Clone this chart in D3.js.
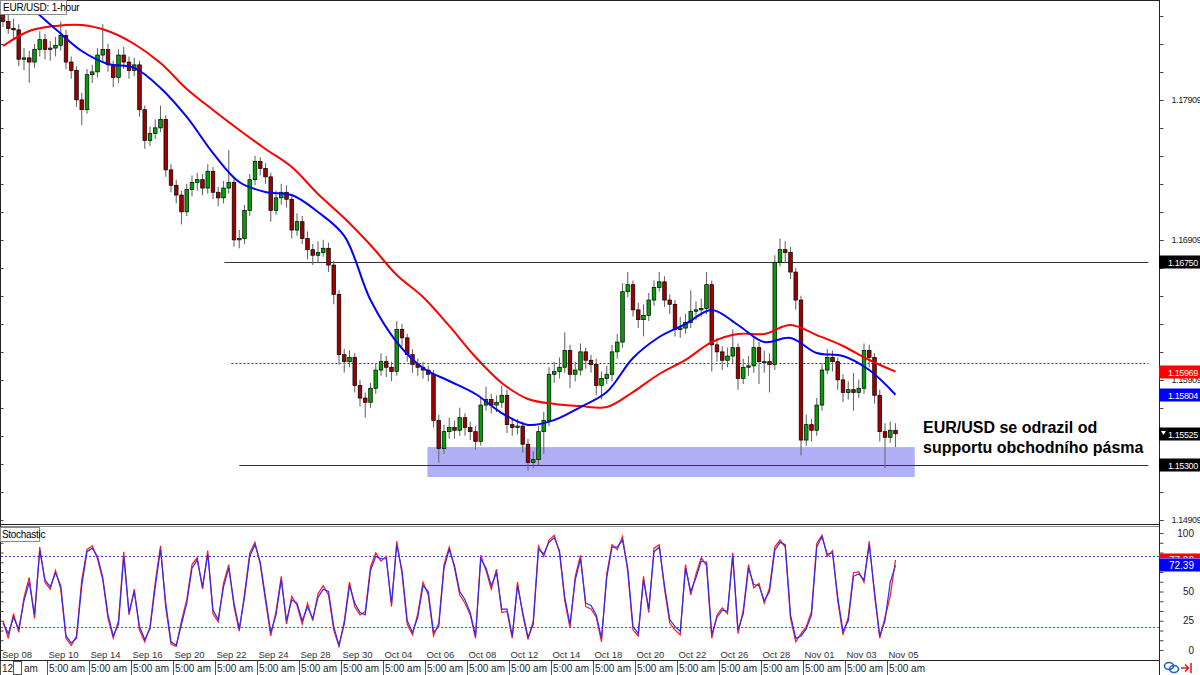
<!DOCTYPE html>
<html><head><meta charset="utf-8">
<script src="https://cdn.jsdelivr.net/npm/d3@7"></script>
<style>
html,body{margin:0;padding:0;background:#fff;}
svg{display:block;font-family:"Liberation Sans",Arial,sans-serif;}
</style></head>
<body>
<svg id="c" width="1200" height="675"></svg>
<script>
// ---------- DATA ----------
const title = "EUR/USD: 1-hour";
const barStepHours = 6;            // one candle per 6 hourly bars
const firstOpen = 1.1852;
const closes = [
1.1847,1.1842,1.1841,1.1820,1.1821,1.1818,1.1827,1.1834,1.1827,1.1828,
1.1830,1.1837,1.1818,1.1812,1.1791,1.1784,1.1809,1.1811,1.1823,1.1827,
1.1816,1.1807,1.1823,1.1818,1.1812,1.1816,1.1784,1.1762,1.1767,1.1771,
1.1777,1.1741,1.1730,1.1723,1.1711,1.1727,1.1732,1.1734,1.1728,1.1740,
1.1725,1.1721,1.1728,1.1732,1.1691,1.1692,1.1712,1.1734,1.1747,1.1742,
1.1736,1.1712,1.1721,1.1725,1.1720,1.1698,1.1704,1.1692,1.1684,1.1680,
1.1682,1.1685,1.1673,1.1652,1.1609,1.1604,1.1607,1.1587,1.1578,1.1575,
1.1585,1.1598,1.1604,1.1600,1.1597,1.1627,1.1621,1.1609,1.1602,1.1600,
1.1598,1.1595,1.1562,1.1542,1.1554,1.1557,1.1555,1.1564,1.1557,1.1554,
1.1547,1.1573,1.1577,1.1573,1.1575,1.1580,1.1559,1.1557,1.1558,1.1545,
1.1532,1.1534,1.1554,1.1562,1.1595,1.1597,1.1600,1.1612,1.1595,1.1598,
1.1611,1.1605,1.1602,1.1587,1.1592,1.1595,1.1611,1.1618,1.1654,1.1659,
1.1641,1.1634,1.1637,1.1648,1.1657,1.1661,1.1648,1.1645,1.1627,1.1628,
1.1632,1.1640,1.1641,1.1642,1.1659,1.1616,1.1611,1.1605,1.1608,1.1614,
1.1592,1.1600,1.1601,1.1614,1.1604,1.1604,1.1602,1.1675,1.1684,1.1682,
1.1668,1.1648,1.1548,1.1559,1.1555,1.1573,1.1598,1.1607,1.1604,1.1591,
1.1582,1.1584,1.1582,1.1585,1.1612,1.1607,1.1580,1.1554,1.1550,1.1555,
1.15525];
const highs = [
1.1856,1.1852,1.1849,1.1845,1.1828,1.1826,1.1831,1.1840,1.1838,1.1833,
1.1836,1.1847,1.1841,1.1822,1.1815,1.1796,1.1813,1.1816,1.1828,1.1845,
1.1831,1.1819,1.1827,1.1829,1.1822,1.1821,1.1819,1.1787,1.1772,1.1777,
1.1787,1.1780,1.1745,1.1734,1.1726,1.1731,1.1737,1.1739,1.1738,1.1745,
1.1743,1.1729,1.1733,1.1755,1.1735,1.1698,1.1716,1.1738,1.1751,1.1750,
1.1746,1.1739,1.1726,1.1731,1.1730,1.1723,1.1710,1.1708,1.1697,1.1688,
1.1690,1.1691,1.1689,1.1676,1.1655,1.1613,1.1612,1.1610,1.1591,1.1582,
1.1589,1.1603,1.1610,1.1608,1.1604,1.1633,1.1631,1.1624,1.1613,1.1606,
1.1604,1.1601,1.1598,1.1566,1.1559,1.1564,1.1562,1.1571,1.1567,1.1561,
1.1558,1.1578,1.1586,1.1581,1.1580,1.1587,1.1584,1.1564,1.1563,1.1561,
1.1549,1.1540,1.1558,1.1568,1.1600,1.1604,1.1607,1.1625,1.1616,1.1604,
1.1617,1.1614,1.1609,1.1606,1.1597,1.1601,1.1616,1.1624,1.1660,1.1668,
1.1662,1.1646,1.1645,1.1653,1.1662,1.1668,1.1665,1.1652,1.1648,1.1636,
1.1638,1.1655,1.1647,1.1649,1.1668,1.1662,1.1621,1.1615,1.1614,1.1627,
1.1617,1.1606,1.1608,1.1622,1.1618,1.1612,1.1610,1.1680,1.1692,1.1690,
1.1686,1.1671,1.1651,1.1566,1.1563,1.1578,1.1603,1.1613,1.1612,1.1607,
1.1595,1.1590,1.1596,1.1591,1.1617,1.1616,1.1610,1.1584,1.1560,1.1561,
1.1560];
const lows = [
1.1843,1.1838,1.1834,1.1815,1.1812,1.1803,1.1814,1.1822,1.1820,1.1819,
1.1822,1.1826,1.1813,1.1806,1.1786,1.1773,1.1781,1.1803,1.1807,1.1818,
1.1811,1.1800,1.1803,1.1813,1.1806,1.1808,1.1779,1.1756,1.1758,1.1763,
1.1768,1.1736,1.1725,1.1717,1.1702,1.1708,1.1722,1.1726,1.1723,1.1724,
1.1720,1.1715,1.1717,1.1724,1.1686,1.1685,1.1688,1.1708,1.1730,1.1737,
1.1731,1.1704,1.1709,1.1716,1.1714,1.1692,1.1694,1.1688,1.1677,1.1673,
1.1675,1.1679,1.1668,1.1645,1.1602,1.1596,1.1600,1.1582,1.1572,1.1564,
1.1571,1.1581,1.1594,1.1593,1.1590,1.1594,1.1615,1.1604,1.1596,1.1594,
1.1592,1.1590,1.1557,1.1532,1.1538,1.1549,1.1549,1.1551,1.1551,1.1548,
1.1541,1.1544,1.1569,1.1567,1.1568,1.1571,1.1553,1.1551,1.1552,1.1539,
1.1526,1.1528,1.1530,1.1538,1.1558,1.1589,1.1592,1.1596,1.1585,1.1590,
1.1594,1.1599,1.1596,1.1580,1.1577,1.1588,1.1590,1.1606,1.1614,1.1650,
1.1636,1.1628,1.1622,1.1633,1.1644,1.1654,1.1643,1.1638,1.1622,1.1621,
1.1624,1.1628,1.1634,1.1636,1.1638,1.1597,1.1604,1.1598,1.1600,1.1603,
1.1584,1.1588,1.1594,1.1596,1.1588,1.1596,1.1582,1.1598,1.1672,1.1675,
1.1663,1.1641,1.1537,1.1544,1.1547,1.1551,1.1569,1.1595,1.1597,1.1584,
1.1575,1.1577,1.1569,1.1578,1.1581,1.1600,1.1574,1.1547,1.1528,1.1546,
1.1543];

const maStepHours = 30;
const maBlue = [1.18680,1.18573,1.18416,1.18259,1.18166,1.18138,1.17995,1.17788,1.17530,1.17323,
1.17252,1.17230,1.17109,1.16938,1.16480,1.16180,1.15995,1.15902,1.15809,1.15673,
1.15588,1.15623,1.15716,1.15823,1.16066,1.16216,1.16309,1.16409,1.16302,1.16180,
1.16209,1.16102,1.16080,1.15980,1.15804];
const maRed = [1.18295,1.18402,1.18438,1.18445,1.18402,1.18309,1.18173,1.17988,1.17838,1.17695,
1.17559,1.17430,1.17238,1.17066,1.16873,1.16659,1.16502,1.16295,1.16073,1.15888,
1.15773,1.15738,1.15723,1.15716,1.15823,1.15952,1.16052,1.16180,1.16238,1.16238,
1.16302,1.16230,1.16152,1.16052,1.15969];

const stochD = [
23,14,28,18,42,58,30,85,60,54, 66,55,12,6,10,55,84,87,80,62,
30,12,22,80,32,50,20,9,18,54, 86,40,7,4,22,40,70,77,54,82,
34,26,54,70,40,18,45,80,90,75, 45,15,30,60,25,43,40,25,37,27,
45,52,50,20,4,22,55,40,32,30, 68,80,78,78,40,90,68,25,15,28,
55,50,15,20,70,86,72,50,43,32, 12,78,70,55,66,35,35,12,55,32,
11,22,86,82,92,96,85,45,22,60, 78,40,38,30,10,62,88,88,94,70,
20,14,60,35,84,88,55,26,20,16, 70,50,62,76,75,13,28,34,33,80,
17,31,70,56,55,42,50,85,92,90, 30,10,12,18,30,88,97,82,83,45,
16,25,63,65,60,90,50,12,25,58, 72.39];
const stochK = [
25,10,31,15,45,62,27,88,58,52, 68,52,10,4,12,60,86,89,78,60,
27,10,25,84,30,52,17,7,20,58, 89,36,5,3,25,43,73,79,52,85,
31,24,57,73,37,16,48,83,92,73, 42,12,33,63,22,46,38,22,40,25,
48,55,47,17,3,25,58,37,30,33, 71,83,76,80,37,93,65,22,13,31,
58,47,12,23,73,88,70,47,40,30, 10,81,68,52,69,32,33,10,58,30,
9,25,89,80,94,98,83,42,19,63, 81,37,35,28,7,65,90,86,97,67,
17,12,63,32,87,90,52,23,17,13, 73,47,65,79,72,10,30,36,31,83,
14,34,73,53,57,40,53,88,94,88, 27,7,14,20,33,91,98,80,85,42,
13,28,66,67,58,93,47,10,28,46, 77];

const priceAxisLabels = [1.14909, 1.15909, 1.16909, 1.17909];
const levelLines = [
  {price: 1.16750, startHour: 253, style: "solid"},
  {price: 1.16030, startHour: 261, style: "dotted"},
  {price: 1.15300, startHour: 270, style: "solid"}
];
const levelEndHour = 1309;
const zone = {top: 1.15430, bottom: 1.15216, startHour: 485, endHour: 1042};
const priceTags = [
  {price: 1.16750, fill: "#000", text: "1.16750"},
  {price: 1.15969, fill: "#ff0000", text: "1.15969"},
  {price: 1.15804, fill: "#0000ff", text: "1.15804"},
  {price: 1.15525, fill: "#000", text: "1.15525", marker: true},
  {price: 1.15300, fill: "#000", text: "1.15300"}
];
const stochLevels = [{v: 80, color: "#3a3aff"}, {v: 20, color: "#ff2020"}];
const stochAxisLabels = [100, 50, 25, 0];
const stochTags = [{v: 77.00, fill: "#ff0000", text: "77.00"}, {v: 72.39, fill: "#0000ff", text: "72.39"}];
const dateLabels = ["Sep 08","Sep 10","Sep 14","Sep 16","Sep 20","Sep 22","Sep 24","Sep 28","Sep 30","Oct 04","Oct 06",
  "Oct 08","Oct 12","Oct 14","Oct 18","Oct 20","Oct 22","Oct 26","Oct 28","Nov 01","Nov 03","Nov 05"];
const dateHours = [0,53,101,149,197,245,293,341,389,437,485,533,581,629,677,725,773,821,869,917,965,1013];
const timeLabels = ["12:","5:00 am","5:00 am","5:00 am","5:00 am","5:00 am","5:00 am","5:00 am","5:00 am","5:00 am","5:00 am",
  "5:00 am","5:00 am","5:00 am","5:00 am","5:00 am","5:00 am","5:00 am","5:00 am","5:00 am","5:00 am","5:00 am"];
const annotation = ["EUR/USD se odrazil od", "supportu obchodního pásma"];

// ---------- CHART ----------
const svg = d3.select("#c");
const W = 1200, AX = 1159;
const x = d3.scaleLinear().domain([0, 1320]).range([3, 1158]);
const y = d3.scaleLinear().domain([1.14909, 1.17909]).range([520, 100]);
const ys = d3.scaleLinear().domain([0, 100]).range([650, 533]);
const lblFont = {size: 9, spacing: -0.4};

const defs = svg.append("defs");
defs.append("clipPath").attr("id","mainClip").append("rect").attr("x",1).attr("y",1).attr("width",AX-1).attr("height",523);
defs.append("clipPath").attr("id","stClip").append("rect").attr("x",1).attr("y",527).attr("width",AX-1).attr("height",132);
defs.append("clipPath").attr("id","redTagClip").append("rect").attr("x",AX).attr("y",ys(77)-7).attr("width",W-AX).attr("height",ys(72.39)-ys(77));

const candles = closes.map((c,i)=>({hour:i*barStepHours, open: i===0?firstOpen:closes[i-1], close:c, high:highs[i], low:lows[i]}));

const main = svg.append("g").attr("clip-path","url(#mainClip)");

// support zone
main.append("rect")
  .attr("x", x(zone.startHour)).attr("width", x(zone.endHour)-x(zone.startHour))
  .attr("y", y(zone.top)).attr("height", y(zone.bottom)-y(zone.top))
  .attr("fill","#b0b0f6");

// level lines
main.selectAll("line.lvl").data(levelLines).join("line")
  .attr("x1", d=>x(d.startHour)).attr("x2", x(levelEndHour))
  .attr("y1", d=>Math.round(y(d.price))+0.5).attr("y2", d=>Math.round(y(d.price))+0.5)
  .attr("stroke","#333").attr("stroke-width",1.2)
  .attr("stroke-dasharray", d=>d.style==="dotted"?"2,2":null);

// candles
const cg = main.append("g");
cg.selectAll("line.wick").data(candles).join("line")
  .attr("x1", d=>x(d.hour)).attr("x2", d=>x(d.hour))
  .attr("y1", d=>y(d.high)).attr("y2", d=>y(d.low))
  .attr("stroke","#6a6a6a").attr("stroke-width",1.1);
cg.selectAll("rect.body").data(candles).join("rect")
  .attr("x", d=>x(d.hour)-1.8).attr("width",3.6)
  .attr("y", d=>y(Math.max(d.open,d.close)))
  .attr("height", d=>Math.max(1, Math.abs(y(d.open)-y(d.close))))
  .attr("fill", d=>d.close>=d.open?"#00a000":"#9e0000")
  .attr("stroke","#000").attr("stroke-width",0.7);

// moving averages
const maLine = d3.line().x((d,i)=>x(i*maStepHours)).y(d=>y(d)).curve(d3.curveCatmullRom.alpha(0.5));
main.append("path").datum(maRed).attr("d",maLine).attr("fill","none").attr("stroke","#ff0000").attr("stroke-width",2);
main.append("path").datum(maBlue).attr("d",maLine).attr("fill","none").attr("stroke","#0000ff").attr("stroke-width",2);

// annotation
const at = svg.append("text").attr("x",923).attr("font-size",16).attr("font-weight","bold").attr("fill","#000")
  .attr("font-family","'Liberation Sans',Arial,sans-serif");
annotation.forEach((t,i)=>at.append("tspan").attr("x",923).attr("y",433+i*19.5).text(t));

// ---------- STOCHASTIC ----------
const st = svg.append("g").attr("clip-path","url(#stClip)");
st.selectAll("line.sl").data(stochLevels).join("line")
  .attr("x1",1).attr("x2",AX).attr("y1",d=>Math.round(ys(d.v))+0.5).attr("y2",d=>Math.round(ys(d.v))+0.5)
  .attr("stroke",d=>d.color).attr("stroke-width",1.2).attr("stroke-dasharray","2,2");
const sLine = d3.line().x((d,i)=>x(i*barStepHours)).y(d=>ys(d));
st.append("path").datum(stochK).attr("d",sLine).attr("fill","none").attr("stroke","#ff1a1a").attr("stroke-width",1.2);
st.append("path").datum(stochD).attr("d",sLine).attr("fill","none").attr("stroke","#2a2aff").attr("stroke-width",1.2);

// date labels inside stochastic panel
svg.append("g").selectAll("text").data(dateLabels).join("text")
  .attr("x",(d,i)=>x(dateHours[i])-1).attr("y",658)
  .attr("font-size",9.5).attr("fill","#333").text(d=>d);

// ---------- FRAMES & AXES ----------
const frame = svg.append("g").attr("stroke","#222").attr("stroke-width",1).attr("fill","none");
frame.append("line").attr("x1",0).attr("x2",AX).attr("y1",0.5).attr("y2",0.5);
frame.append("line").attr("x1",0).attr("x2",AX).attr("y1",524.5).attr("y2",524.5);
frame.append("line").attr("x1",0).attr("x2",AX).attr("y1",526.5).attr("y2",526.5).attr("stroke","#888");
frame.append("line").attr("x1",0).attr("x2",AX+0.5).attr("y1",660.5).attr("y2",660.5);
frame.append("line").attr("x1",AX+0.5).attr("x2",AX+0.5).attr("y1",0).attr("y2",675);
frame.append("line").attr("x1",0.5).attr("x2",0.5).attr("y1",0).attr("y2",660);

// price axis minor ticks (right and left)
const minor = d3.range(1.14509, 1.18710, 0.002).filter(v=>y(v)>2 && y(v)<523);
svg.append("g").attr("transform",`translate(${AX+0.5},0)`)
  .call(d3.axisRight(y).tickValues(minor).tickSize(4).tickFormat(""))
  .call(g=>g.select(".domain").remove()).selectAll("line").attr("stroke","#444");
svg.append("g").attr("transform",`translate(0.5,0)`)
  .call(d3.axisRight(y).tickValues(minor).tickSize(3).tickFormat(""))
  .call(g=>g.select(".domain").remove()).selectAll("line").attr("stroke","#444");
// price axis labels
svg.append("g").attr("transform",`translate(${AX+0.5},0)`)
  .call(d3.axisRight(y).tickValues(priceAxisLabels).tickSize(4).tickPadding(8).tickFormat(d3.format(".5f")))
  .call(g=>g.select(".domain").remove())
  .call(g=>g.selectAll("text").attr("font-size",lblFont.size).attr("letter-spacing",lblFont.spacing).attr("fill","#222")
     .attr("font-family","'Liberation Sans',Arial,sans-serif"))
  .selectAll("line").attr("stroke","#444");

// price tags
const tg = svg.append("g").selectAll("g").data(priceTags).join("g")
  .attr("transform",d=>`translate(${AX},${Math.round(y(d.price))})`);
tg.append("rect").attr("x",0).attr("y",-6.5).attr("width",W-AX).attr("height",13).attr("fill",d=>d.fill);
tg.append("text").attr("x",9).attr("y",3.5).attr("font-size",lblFont.size).attr("letter-spacing",lblFont.spacing)
  .attr("fill","#fff").text(d=>d.text);
tg.filter(d=>d.marker).append("path").attr("d","M2,-3 L7,-3 L4.5,1 Z").attr("fill","#fff");

// stochastic axis
const sMinor = d3.range(0, 100.01, 100/12);
svg.append("g").attr("transform",`translate(${AX+0.5},0)`)
  .call(d3.axisRight(ys).tickValues(sMinor).tickSize(4).tickFormat(""))
  .call(g=>g.select(".domain").remove()).selectAll("line").attr("stroke","#444");
svg.append("g").attr("transform",`translate(0.5,0)`)
  .call(d3.axisRight(ys).tickValues(sMinor).tickSize(3).tickFormat(""))
  .call(g=>g.select(".domain").remove()).selectAll("line").attr("stroke","#444");
svg.append("g").selectAll("text").data(stochAxisLabels).join("text")
  .attr("x",1194).attr("y",d=>ys(d)+3.5).attr("text-anchor","end")
  .attr("font-size",10).attr("fill","#222").text(d=>d);
const stg = svg.append("g").selectAll("g").data(stochTags).join("g")
  .attr("clip-path",(d,i)=>i===0?"url(#redTagClip)":null);
stg.append("rect").attr("x",AX).attr("y",d=>Math.round(ys(d.v))-6.5).attr("width",W-AX).attr("height",13).attr("fill",d=>d.fill);
stg.append("text").attr("x",1194).attr("y",d=>Math.round(ys(d.v))+4).attr("text-anchor","end").attr("font-size",10).attr("fill","#fff").text(d=>d.text);

// time axis row
const tr = svg.append("g");
tr.selectAll("line").data(dateHours).join("line")
  .attr("x1",(d,i)=>i===0?0.5:Math.round(x(d))-1.5).attr("x2",(d,i)=>i===0?0.5:Math.round(x(d))-1.5)
  .attr("y1",661).attr("y2",675).attr("stroke","#555");
tr.selectAll("text").data(timeLabels).join("text")
  .attr("x",(d,i)=>i===0?2:x(dateHours[i])-0.5).attr("y",672)
  .attr("font-size",10).attr("fill","#222").text(d=>d);
// cursor box within first time label, then "am"
tr.append("rect").attr("x",13.5).attr("y",661.5).attr("width",8).attr("height",13).attr("fill","#fff").attr("stroke","#555");
tr.append("text").attr("x",24).attr("y",672).attr("font-size",10).attr("fill","#222").text("am");

// titles
const tb = svg.append("g");
tb.append("rect").attr("x",0.5).attr("y",0.5).attr("width",66).attr("height",14).attr("fill","#fff").attr("stroke","#8a8a8a");
tb.append("text").attr("x",3).attr("y",11).attr("font-size",10).attr("fill","#000").attr("letter-spacing","-0.2").text(title);
tb.append("rect").attr("x",0.5).attr("y",527.5).attr("width",39).attr("height",14).attr("fill","#fff").attr("stroke","#8a8a8a");
tb.append("text").attr("x",2).attr("y",538).attr("font-size",10).attr("fill","#000").attr("letter-spacing","-0.3").text("Stochastic");

// bottom-right icons
const ic = svg.append("g");
ic.append("ellipse").attr("cx",1169).attr("cy",666).attr("rx",4.5).attr("ry",3.5).attr("fill","none").attr("stroke","#1a5fd6").attr("stroke-width",1.6);
ic.append("ellipse").attr("cx",1174).attr("cy",669).attr("rx",4.5).attr("ry",3.5).attr("fill","none").attr("stroke","#1a5fd6").attr("stroke-width",1.6);
ic.append("path").attr("d","M1181,668 L1188,668 M1185,664.5 L1188.5,668 L1185,671.5 M1191,663 L1191,673").attr("fill","none").attr("stroke","#e02020").attr("stroke-width",1.6);
</script>
</body></html>
